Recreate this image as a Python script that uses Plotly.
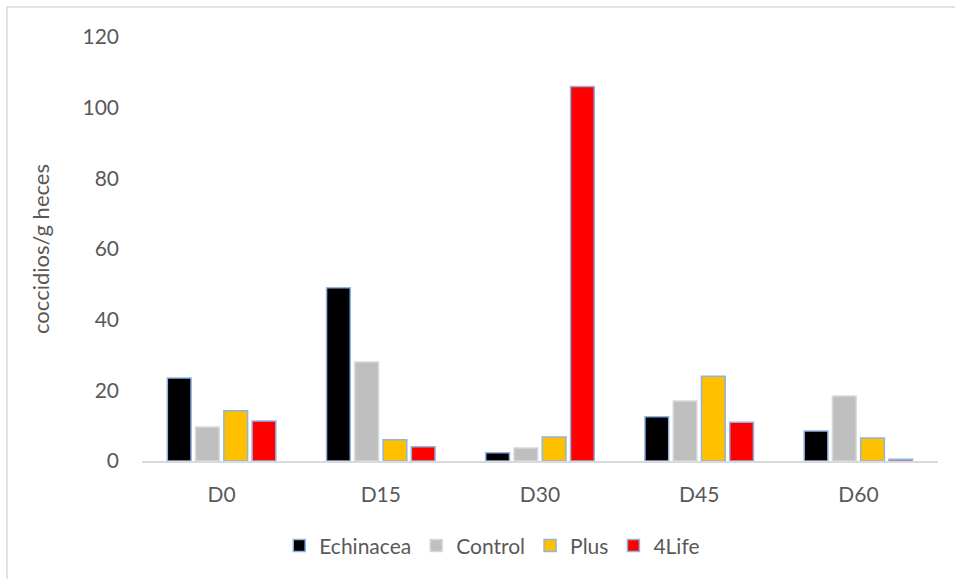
import plotly.graph_objects as go

categories = ["D0", "D15", "D30", "D45", "D60"]
echinacea = [23.5, 49, 2.3, 12.5, 8.5]
control = [9.6, 28, 3.7, 17, 18.4]
plus = [14.2, 6, 6.8, 24, 6.5]
life4 = [11.3, 4, 106, 11, 0.5]
y_ticks = [0, 20, 40, 60, 80, 100, 120]

series = [
    ("Echinacea", echinacea, "#000000", "#8EB4E3"),
    ("Control", control, "#BFBFBF", "#D9D9D9"),
    ("Plus", plus, "#FFC000", "#8EB4E3"),
    ("4Life", life4, "#FF0000", "#8EB4E3"),
]

font_family = "Lato, 'Open Sans', sans-serif"
text_color = "#595959"

fig = go.Figure()
for name, vals, fill, edge in series:
    fig.add_trace(go.Bar(
        x=categories, y=vals, name=name,
        marker=dict(color=fill, line=dict(color=edge, width=1.5)),
    ))

fig.update_layout(
    width=955, height=579,
    margin=dict(l=142, r=17, t=37, b=118, autoexpand=False),
    paper_bgcolor="white", plot_bgcolor="white",
    barmode="group", bargap=0.29, bargroupgap=0.16,
    font=dict(family=font_family, color=text_color, size=22),
    showlegend=True,
    legend=dict(orientation="h", x=0.44, xanchor="center", y=-0.2, yanchor="middle",
                font=dict(size=21, color=text_color), traceorder="normal",
                itemwidth=30),
    xaxis=dict(showline=True, linecolor="#D9D9D9", linewidth=1.5, ticks="",
               ticklabelstandoff=14, tickfont=dict(size=21, color=text_color),
               showgrid=False, zeroline=False),
    yaxis=dict(range=[0, 120], tickvals=y_ticks, showgrid=False, zeroline=False,
               showline=False, ticks="", ticklabelstandoff=22,
               tickfont=dict(size=21, color=text_color),
               title=dict(text="coccidios/g heces", font=dict(size=22, color=text_color),
                          standoff=26)),
    shapes=[dict(type="rect", xref="paper", yref="paper",
                 x0=(7 - 142) / 796, x1=1.05, y0=-0.4, y1=1 + 30 / 424,
                 line=dict(color="#D9D9D9", width=1.5), fillcolor="rgba(0,0,0,0)",
                 layer="below")],
)

fig.write_html("out.html")
